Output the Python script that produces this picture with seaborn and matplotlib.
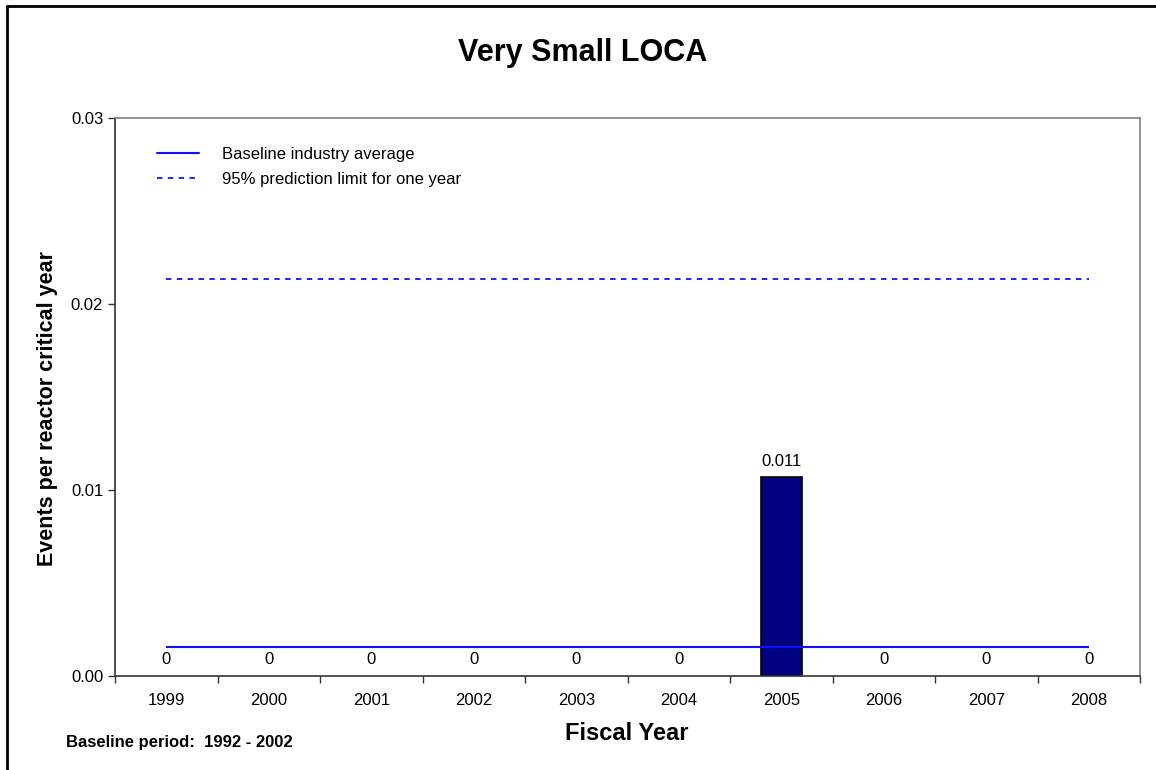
import numpy as np
import pandas as pd
import seaborn as sns
import matplotlib.pyplot as plt
from matplotlib.lines import Line2D

# data
years = [1999, 2000, 2001, 2002, 2003, 2004, 2005, 2006, 2007, 2008]
rates = [0, 0, 0, 0, 0, 0, 0.0107, 0, 0, 0]
labels = ['0', '0', '0', '0', '0', '0', '0.011', '0', '0', '0']
baseline_avg = 0.00158
pred_limit = 0.02135

sns.set_style("white")
plt.rcParams['font.family'] = ['Liberation Sans', 'DejaVu Sans']
plt.rcParams['text.color'] = 'black'
plt.rcParams['xtick.color'] = 'black'
plt.rcParams['ytick.color'] = 'black'
plt.rcParams['axes.labelcolor'] = 'black'

df = pd.DataFrame({'year': years, 'rate': rates})

fig = plt.figure(figsize=(11.56, 7.7), dpi=100)
ax = fig.add_axes([0.0995, 0.1221, 0.8867, 0.7247])

sns.barplot(data=df, x='year', y='rate', color='#000080', width=0.4,
            edgecolor='black', linewidth=1.2, saturation=1, ax=ax)
# hide outlines of empty bars
for p, v in zip(ax.patches, rates):
    if v == 0:
        p.set_linewidth(0)

n = len(years)
ax.hlines(baseline_avg, 0, n - 1, color='#1010ff', lw=1.5, zorder=3)
ax.hlines(pred_limit, 0, n - 1, color='#1010ff', lw=1.3,
          linestyles=(0, (3, 3)), zorder=3)

# value labels
for i, (v, lab) in enumerate(zip(rates, labels)):
    if v > 0:
        ax.annotate(lab, (i, v), xytext=(0, 6), textcoords='offset points',
                    ha='center', va='bottom', fontsize=12)
    else:
        ax.annotate(lab, (i, 0), xytext=(0, 12), textcoords='offset points',
                    ha='center', va='center', fontsize=12)

ax.set_xlim(-0.5, n - 0.5)
ax.set_ylim(0, 0.03)
ax.set_yticks([0, 0.01, 0.02, 0.03])
ax.set_yticklabels(['0.00', '0.01', '0.02', '0.03'])
ax.set_xticks(np.arange(n))
ax.set_xticklabels([str(y) for y in years])
ax.set_xticks(np.arange(n + 1) - 0.5, minor=True)
ax.tick_params(axis='x', which='major', length=0, labelsize=12, pad=12)
ax.tick_params(axis='x', which='minor', length=5, width=1, direction='out',
               color='#333333', bottom=True)
ax.tick_params(axis='y', length=5, width=1, direction='out', labelsize=12,
               left=True, color='#333333')
ax.set_xlabel('')
ax.set_ylabel('')

for side in ['left', 'bottom']:
    ax.spines[side].set_color('#333333')
    ax.spines[side].set_linewidth(1.2)
for side in ['top', 'right']:
    ax.spines[side].set_color('#808080')
    ax.spines[side].set_linewidth(1.2)

handles = [Line2D([], [], color='#1010ff', lw=1.5),
           Line2D([], [], color='#1010ff', lw=1.3, linestyle=(0, (3, 3)))]
ax.legend(handles, ['Baseline industry average', '95% prediction limit for one year'],
          loc='upper left', bbox_to_anchor=(0.041, 0.948), frameon=False,
          fontsize=12, handlelength=2.5, handletextpad=1.4, labelspacing=0.62,
          borderpad=0, borderaxespad=0)

fig.text(583 / 1156, 1 - 53 / 770, 'Very Small LOCA', ha='center', va='center',
         fontsize=22, fontweight='bold')
fig.text(627 / 1156, 1 - 733 / 770, 'Fiscal Year', ha='center', va='center',
         fontsize=17, fontweight='bold')
fig.text(48 / 1156, 1 - 408 / 770, 'Events per reactor critical year', ha='center',
         va='center', rotation=90, fontsize=15.5, fontweight='bold')
fig.text(66 / 1156, 1 - 743 / 770, 'Baseline period:  1992 - 2002', ha='left',
         va='center', fontsize=12, fontweight='bold')

# outer frame (left and top edges visible)
fig.add_artist(Line2D([7 / 1156, 7 / 1156], [0, 1 - 6 / 770], color='black', lw=2))
fig.add_artist(Line2D([7 / 1156, 1], [1 - 6 / 770, 1 - 6 / 770], color='black', lw=2))

fig.savefig('out.png', dpi=100)
